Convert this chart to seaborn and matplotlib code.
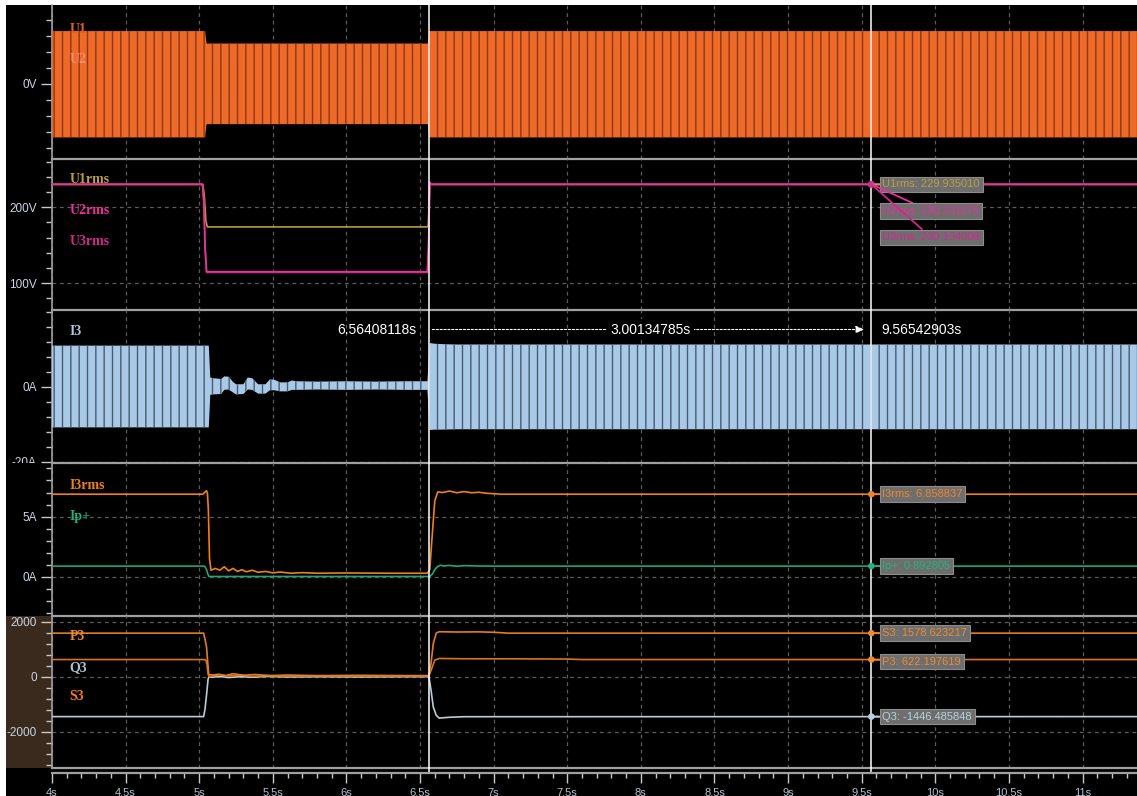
import numpy as np
import matplotlib
matplotlib.use("Agg")
import matplotlib.pyplot as plt
import seaborn as sns
from matplotlib.patches import Rectangle
from matplotlib.ticker import MultipleLocator, FixedLocator
from matplotlib.transforms import Bbox, TransformedBbox

# ---------------- data ----------------
T_MIN, T_MAX = 4.0, 11.37
X_TICKS = [4.0, 4.5, 5.0, 5.5, 6.0, 6.5, 7.0, 7.5, 8.0, 8.5, 9.0, 9.5, 10.0, 10.5, 11.0]
X_TICK_LABELS = ["4s", "4.5s", "5s", "5.5s", "6s", "6.5s", "7s", "7.5s", "8s", "8.5s",
                 "9s", "9.5s", "10s", "10.5s", "11s"]

CURSOR_A = 6.56408118
CURSOR_B = 9.56542903
CURSOR_DELTA = 3.00134785

# panel 1 : phase voltages U1/U2, peak envelope (V)
U_ENV_T = [4.00, 5.040, 5.050, 6.553, 6.562, 11.37]
U_ENV_HI = [330.0, 330.0, 252.0, 252.0, 330.0, 330.0]
U_ENV_LO = [-335.0, -335.0, -252.0, -252.0, -335.0, -335.0]

# panel 2 : RMS voltages (V)
U1RMS_T = [4.00, 5.025, 5.035, 5.045, 5.055, 6.548, 6.556, 6.566, 6.575, 11.37]
U1RMS_V = [230.0, 230.0, 214.0, 182.0, 174.0, 174.0, 176.0, 231.0, 230.0, 230.0]
U2RMS_T = [4.00, 5.022, 5.032, 5.040, 5.050, 6.550, 6.558, 6.566, 6.575, 11.37]
U2RMS_V = [230.2, 230.2, 205.0, 146.0, 115.0, 115.0, 150.0, 233.0, 230.2, 230.2]
U3RMS_T = [4.00, 5.022, 5.032, 5.040, 5.050, 6.550, 6.558, 6.566, 6.575, 11.37]
U3RMS_V = [230.1, 230.1, 204.0, 145.0, 114.0, 114.0, 149.0, 232.0, 230.1, 230.1]
U1RMS_AT_B, U2RMS_AT_B, U3RMS_AT_B = 229.935010, 230.231175, 230.134008

# panel 3 : phase current I3, envelope (A)
I3_ENV_T = [4.00, 5.065, 5.075, 5.10, 5.15, 5.17, 5.20, 5.23, 5.25, 5.30, 5.33, 5.36,
            5.40, 5.45, 5.48, 5.51, 5.55, 5.60, 5.63, 5.66, 5.80, 6.00, 6.20, 6.40,
            6.550, 6.566, 6.60, 6.65, 6.75, 11.37]
I3_ENV_HI = [10.9, 10.9, 2.4, 2.2, 2.0, 2.7, 2.6, 1.2, 0.6, 0.6, 2.4, 2.2,
             0.6, 0.6, 1.9, 1.8, 1.1, 1.1, 1.6, 1.4, 1.3, 1.4, 1.3, 1.4,
             1.4, 11.6, 11.4, 11.3, 11.2, 11.2]
I3_ENV_LO = [-10.9, -10.9, -2.2, -2.1, -2.0, -0.9, -0.8, -1.6, -2.1, -2.0, -0.8, -0.9,
             -1.9, -1.9, -1.0, -1.0, -1.3, -1.3, -0.9, -0.9, -0.8, -0.9, -0.8, -0.9,
             -0.9, -11.6, -11.5, -11.5, -11.4, -11.4]

# panel 4 : I3rms and Ip+ (A)
I3RMS_T = [4.00, 5.025, 5.040, 5.050, 5.056, 5.062, 5.070, 5.080, 5.11, 5.14, 5.17,
           5.20, 5.23, 5.26, 5.29, 5.32, 5.36, 5.40, 5.45, 5.50, 5.55, 5.62, 5.70,
           5.80, 6.00, 6.30, 6.550, 6.566, 6.580, 6.600, 6.620, 6.650, 6.700, 6.750,
           6.800, 6.850, 6.900, 6.950, 7.000, 7.050, 11.37]
I3RMS_V = [6.86, 6.86, 7.05, 7.15, 6.9, 5.6, 1.5, 0.55, 0.7, 0.55, 0.84, 0.5, 0.7,
           0.45, 0.6, 0.42, 0.55, 0.38, 0.45, 0.33, 0.4, 0.3, 0.35, 0.3, 0.32, 0.3,
           0.3, 0.6, 3.0, 6.3, 7.05, 7.0, 7.12, 6.98, 7.08, 6.98, 7.02, 6.94, 6.9,
           6.86, 6.86]
IP_T = [4.00, 5.030, 5.040, 5.050, 5.058, 5.066, 6.566, 6.585, 6.600, 6.620, 6.640,
        6.660, 6.700, 6.750, 6.800, 6.900, 7.000, 11.37]
IP_V = [0.89, 0.89, 0.84, 0.6, 0.25, 0.03, 0.03, 0.25, 0.6, 0.86, 0.96, 0.9, 0.95,
        0.88, 0.93, 0.9, 0.89, 0.89]
I3RMS_AT_B, IP_AT_B = 6.858837, 0.892805

# panel 5 : powers (W / var / VA)
S3_T = [4.00, 5.030, 5.040, 5.050, 5.057, 5.065, 5.09, 5.13, 5.18, 5.23, 5.30, 5.38,
        5.48, 5.60, 5.80, 6.10, 6.40, 6.560, 6.575, 6.590, 6.610, 6.630, 6.750,
        6.900, 7.000, 7.100, 11.37]
S3_V = [1578.6, 1578.6, 1340.0, 1060.0, 570.0, 80.0, 60.0, 90.0, 40.0, 110.0, 50.0,
        80.0, 40.0, 60.0, 40.0, 50.0, 40.0, 40.0, 500.0, 1200.0, 1580.0, 1630.0,
        1620.0, 1625.0, 1610.0, 1578.6, 1578.6]
P3_T = [4.00, 5.035, 5.045, 5.053, 5.060, 5.066, 5.09, 5.14, 5.20, 5.28, 5.36, 5.46,
        5.60, 5.80, 6.10, 6.40, 6.560, 6.580, 6.600, 6.630, 6.800, 7.100, 7.500,
        7.600, 11.37]
P3_V = [622.2, 622.2, 600.0, 450.0, 100.0, 10.0, 30.0, 70.0, 20.0, 60.0, 10.0, 40.0,
        20.0, 30.0, 20.0, 25.0, 20.0, 300.0, 600.0, 660.0, 650.0, 648.0, 640.0, 622.2,
        622.2]
Q3_T = [4.00, 5.030, 5.039, 5.050, 5.060, 5.066, 5.09, 5.14, 5.20, 5.28, 5.36, 5.46,
        5.60, 5.80, 6.10, 6.40, 6.560, 6.575, 6.590, 6.610, 6.630, 6.700, 6.800, 11.37]
Q3_V = [-1446.5, -1446.5, -1189.0, -643.0, -98.0, 0.0, -20.0, 10.0, -30.0, 0.0, -20.0,
        10.0, -10.0, 0.0, -10.0, 0.0, 0.0, -500.0, -1100.0, -1400.0, -1500.0, -1470.0,
        -1450.0, -1446.5]
S3_AT_B, P3_AT_B, Q3_AT_B = 1578.623217, 622.197619, -1446.485848

# ---------------- styling ----------------
W, H = 1137, 796
sns.set_theme(style="dark", rc={"axes.facecolor": "black", "figure.facecolor": "white"})
plt.rcParams["font.family"] = ["Liberation Sans", "DejaVu Sans"]
plt.rcParams["hatch.linewidth"] = 1.0

SPINE = "#a0a0a0"
GRID = "#5c5c5c"
TICKC = "#c8c8c8"
TICKLAB = "#c9d6e3"
LEFT = 52 / W

fig = plt.figure(figsize=(W / 100, H / 100), dpi=100, facecolor="white")
fig.add_artist(Rectangle((6 / W, 0), 1 - 6 / W, 1 - 5 / H, transform=fig.transFigure,
                         facecolor="black", edgecolor="none", zorder=-10))
fig.add_artist(Rectangle((6 / W, 1 - 768 / H), (52 - 6) / W, (768 - 616) / H,
                         transform=fig.transFigure, facecolor="#3a2a1d",
                         edgecolor="none", zorder=-9))


def make_ax(top_px, bot_px):
    return fig.add_axes([LEFT, 1 - bot_px / H, 1 - LEFT, (bot_px - top_px) / H])


def style(ax, ylim, majors, labels, minor):
    ax.set_facecolor("black")
    ax.patch.set_alpha(0.0)
    ax.set_xlim(T_MIN, T_MAX)
    ax.set_ylim(*ylim)
    ax.spines["right"].set_visible(False)
    ax.spines["top"].set_visible(False)
    ax.spines["bottom"].set_color(SPINE)
    ax.spines["bottom"].set_linewidth(1.6)
    ax.spines["left"].set_color(SPINE)
    ax.spines["left"].set_linewidth(1.2)
    ax.xaxis.set_major_locator(FixedLocator(X_TICKS))
    ax.tick_params(axis="x", which="both", length=0, labelbottom=False)
    ax.set_yticks(majors, labels=labels)
    ax.yaxis.set_minor_locator(MultipleLocator(minor))
    ax.tick_params(axis="y", which="major", left=True, length=8, width=1, color=TICKC,
                   labelcolor=TICKLAB, labelsize=8.5, pad=3, direction="out")
    ax.tick_params(axis="y", which="minor", left=True, length=4, width=1, color=TICKC,
                   direction="out")
    ax.grid(True, which="major", axis="both", color=GRID, linestyle=(0, (3, 3)),
            linewidth=0.9)
    ax.set_xlabel("")
    ax.set_ylabel("")
    for c in (CURSOR_A, CURSOR_B):
        ax.axvline(c, color="white", lw=1.1, zorder=6)


def chan_label(ax, x_frac, y, text, color, z=7):
    ax.text(x_frac, y, text, transform=ax.get_yaxis_transform(), color=color,
            fontsize=10, fontweight="bold", family=["Liberation Serif", "DejaVu Serif"],
            va="center", ha="left", zorder=z)


def readout(ax, value, text, color, dy_px):
    sns.scatterplot(x=[CURSOR_B], y=[value], ax=ax, color=color, s=22, edgecolor="none",
                    zorder=9, legend=False)
    ax.annotate(text, xy=(CURSOR_B, value), xytext=(11, dy_px),
                textcoords="offset pixels", ha="left", va="center", color=color,
                fontsize=8, zorder=10,
                bbox=dict(boxstyle="square,pad=0.25", fc="#6e6e6e", ec="#8c8c8c", lw=0.8),
                arrowprops=dict(arrowstyle="-", color=color, lw=1.3, shrinkA=0, shrinkB=0))


def trace(ax, t, v, color, lw=1.2, z=4):
    sns.lineplot(x=t, y=v, ax=ax, color=color, lw=lw, estimator=None, sort=False,
                 legend=False, zorder=z)


XL = 0.016  # channel label offset (axes fraction)

# ---------- panel 1 ----------
ax1 = make_ax(5, 159)
ax1.fill_between(U_ENV_T, U_ENV_LO, U_ENV_HI, facecolor="#ef6a28", edgecolor="#8a3812",
                 hatch="||", linewidth=0, zorder=3)
style(ax1, (-470, 493), [0], ["0V"], 100)
chan_label(ax1, XL, 340, "U1", "#e4601c")
chan_label(ax1, XL, 152, "U2", "#f48a72")

# ---------- panel 2 ----------
ax2 = make_ax(159, 310)
trace(ax2, U1RMS_T, U1RMS_V, "#b59a3c")
trace(ax2, U3RMS_T, U3RMS_V, "#c82485")
trace(ax2, U2RMS_T, U2RMS_V, "#e8329e")
style(ax2, (64.5, 263.5), [100, 200], ["100V", "200V"], 20)
chan_label(ax2, XL, 236, "U1rms", "#b8a040")
chan_label(ax2, XL, 195, "U2rms", "#e8309a")
chan_label(ax2, XL, 155, "U3rms", "#d0288c")
readout(ax2, U1RMS_AT_B, f"U1rms: {U1RMS_AT_B:.6f}", "#b8a040", 0)
readout(ax2, U2RMS_AT_B, f"U2rms: {U2RMS_AT_B:.6f}", "#e8309a", -27)
readout(ax2, U3RMS_AT_B, f"U3rms: {U3RMS_AT_B:.6f}", "#d4288e", -53)

# ---------- panel 3 ----------
ax3 = make_ax(310, 463)
ax3.fill_between(I3_ENV_T, I3_ENV_LO, I3_ENV_HI, facecolor="#a8cae8", edgecolor="#4c5c6c",
                 hatch="||", linewidth=0, zorder=3)
style(ax3, (-20.4, 20.4), [-20, 0], ["-20A", "0A"], 4)
# the "-20A" label is cut by the panel below, as in the reference
clip = TransformedBbox(Bbox([[-1.0, 0.0], [1.0, 1.0]]), ax3.transAxes)
for tk in ax3.yaxis.get_major_ticks():
    tk.label1.set_clip_on(True)
    tk.label1.set_clip_box(clip)
chan_label(ax3, XL, 14.7, "I3", "#b0c8dc")
y_cur = 15.2
ax3.annotate(f"{CURSOR_A:.8f}s", xy=(CURSOR_A, y_cur), xytext=(-13, 0),
             textcoords="offset pixels", ha="right", va="center", color="white",
             fontsize=10, zorder=10)
ax3.annotate(f"{CURSOR_B:.8f}s", xy=(CURSOR_B, y_cur), xytext=(10, 0),
             textcoords="offset pixels", ha="left", va="center", color="white",
             fontsize=10, zorder=10)
ax3.annotate("", xy=(CURSOR_B, y_cur), xytext=(CURSOR_A, y_cur),
             arrowprops=dict(arrowstyle="-|>,head_length=0.5,head_width=0.22",
                             color="white", lw=0.8, linestyle=(0, (2, 1.5)),
                             shrinkA=2, shrinkB=5, mutation_scale=10), zorder=9)
ax3.text((CURSOR_A + CURSOR_B) / 2, y_cur, f"{CURSOR_DELTA:.8f}s", ha="center",
         va="center", color="white", fontsize=10, zorder=11,
         bbox=dict(boxstyle="square,pad=0.25", fc="black", ec="none"))

# ---------- panel 4 ----------
ax4 = make_ax(463, 616)
trace(ax4, IP_T, IP_V, "#1ca878")
trace(ax4, I3RMS_T, I3RMS_V, "#f0801c")
style(ax4, (-3.25, 9.45), [0, 5], ["0A", "5A"], 1)
chan_label(ax4, XL, 7.6, "I3rms", "#f08020")
chan_label(ax4, XL, 5.0, "Ip+", "#1eb07a")
readout(ax4, I3RMS_AT_B, f"I3rms: {I3RMS_AT_B:.6f}", "#f08428", 0)
readout(ax4, IP_AT_B, f"Ip+: {IP_AT_B:.6f}", "#22b47c", 0)

# ---------- panel 5 ----------
ax5 = make_ax(616, 768)
trace(ax5, Q3_T, Q3_V, "#b6ced6")
trace(ax5, P3_T, P3_V, "#d8741c")
trace(ax5, S3_T, S3_V, "#e47c20")
style(ax5, (-3309, 2200), [-2000, 0, 2000], ["-2000", "0", "2000"], 400)
chan_label(ax5, XL, 1465, "P3", "#f08a2a")
chan_label(ax5, XL, 338, "Q3", "#a8c4d0")
chan_label(ax5, XL, -716, "S3", "#f07a20")
readout(ax5, S3_AT_B, f"S3: {S3_AT_B:.6f}", "#f08a30", 0)
readout(ax5, P3_AT_B, f"P3: {P3_AT_B:.6f}", "#f08a30", -2)
readout(ax5, Q3_AT_B, f"Q3: {Q3_AT_B:.6f}", "#b8d2dc", 0)

# ---------- time ruler ----------
axr = fig.add_axes([LEFT, 0, 1 - LEFT, (796 - 773) / H])
axr.set_facecolor("black")
axr.patch.set_alpha(0.0)
axr.set_xlim(T_MIN, T_MAX)
axr.set_ylim(0, 1)
axr.set_yticks([])
for s in ("left", "right", "bottom"):
    axr.spines[s].set_visible(False)
axr.spines["top"].set_color(SPINE)
axr.spines["top"].set_linewidth(1.6)
axr.set_xticks(X_TICKS, labels=X_TICK_LABELS)
axr.xaxis.set_minor_locator(MultipleLocator(0.1))
axr.tick_params(axis="x", which="major", top=True, bottom=False, direction="in",
                length=7.2, width=1, color=TICKC, labeltop=False, labelbottom=True,
                labelsize=8, labelcolor="#b4c0cc", pad=-6)
axr.tick_params(axis="x", which="minor", top=True, bottom=False, direction="in",
                length=3.6, width=1, color=TICKC)
axr.grid(False)
for c in (CURSOR_A, CURSOR_B):
    axr.axvline(c, ymin=1, ymax=1 + 5 / 23, color="white", lw=1.1, clip_on=False)

fig.savefig("out.png", dpi=100, facecolor=fig.get_facecolor())
